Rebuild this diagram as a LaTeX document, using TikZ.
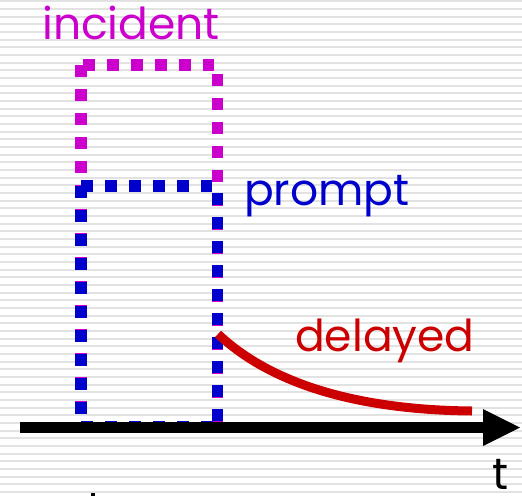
\documentclass[tikz,border=0pt]{standalone}
\usepackage{fontspec}
\setmainfont{Poppins}
\definecolor{incid}{HTML}{CC00CC}
\definecolor{prmpt}{HTML}{0000CC}
\definecolor{dlyd}{HTML}{CC0000}
\definecolor{rule}{HTML}{E2E2E2}
\begin{document}
\begin{tikzpicture}[x=1pt,y=-1pt,
  dotline/.style={line width=11.5pt,line cap=butt,dash pattern=on 11.5pt off 12.5pt},
  lbl/.style={anchor=base west,inner sep=0pt,font=\fontsize{44}{44}\selectfont}]
% page and ruled background
\useasboundingbox (0,0) rectangle (522,496);
\fill[white] (0,0) rectangle (522,496);
\foreach \k in {0,...,64}
  \fill[rule] (0,{0.2+7.67*\k}) rectangle (522,{2.2+7.67*\k});
% incident pulse
\draw[dotline,incid] (81,65) -- (81,427);
\draw[dotline,incid] (83,65) -- (214,65);
\draw[dotline,incid] (217.5,74) -- (217.5,427);
% prompt pulse
\draw[dotline,prmpt] (81,427) -- (217,427);
\draw[dotline,prmpt] (81,186) -- (81,427);
\draw[dotline,prmpt] (81,186) -- (212,186);
\draw[dotline,prmpt] (217.5,193) -- (217.5,427);
% time axis
\coordinate (t0) at (20,427.5);
\coordinate (t1) at (484,427.5);
\draw[line width=11pt] (t0) -- (t1);
\fill (483,409) -- (520,427.5) -- (483,446) -- cycle;
% delayed decay
\coordinate (d0) at (218,334);
\coordinate (d1) at (472,411);
\draw[dlyd,line width=9pt] (d0) .. controls (272,385) and (360,410) .. (d1);
% labels
\node[lbl,incid] (inc) at (42,39) {incident};
\node[lbl,prmpt] (pro) at (244,205) {prompt};
\node[lbl,dlyd] (del) at (295,351) {delayed};
\node[lbl] (tt) at (492,489) {t};
\fill (91,493) rectangle (95,496);
\end{tikzpicture}
\end{document}
